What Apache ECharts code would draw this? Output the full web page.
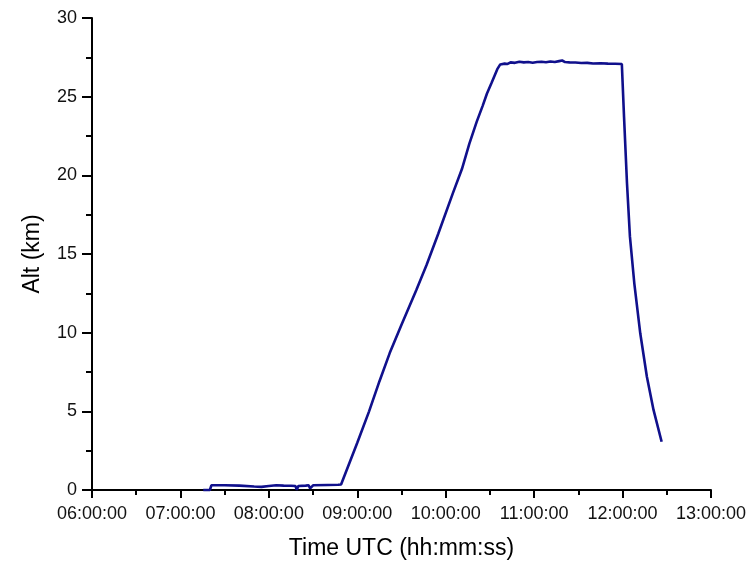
<!DOCTYPE html>
<html>
<head>
<meta charset="utf-8">
<script src="https://cdn.jsdelivr.net/npm/echarts@6/dist/echarts.min.js"></script>
<style>
  html, body { margin: 0; padding: 0; background: #fff; }
  #chart { width: 754px; height: 565px; }
</style>
</head>
<body>
<div id="chart"></div>
<script>
// flight track: time UTC (hh:mm) and altitude (km)
const times = [
  "07:15.5", "07:20", "07:21", "07:30", "07:40", "07:50", "07:55", "08:00",
  "08:05", "08:10", "08:15", "08:18", "08:19", "08:20", "08:25", "08:27",
  "08:28", "08:30", "08:40", "08:47", "08:49",
  "09:00", "09:08", "09:15", "09:22", "09:30", "09:35", "09:40", "09:47",
  "09:55", "10:05", "10:11", "10:16", "10:21", "10:25", "10:28", "10:31",
  "10:33", "10:35", "10:37", "10:38",
  "10:40", "10:42", "10:44", "10:47", "10:50", "10:53", "10:56", "10:59",
  "11:02", "11:05", "11:08", "11:11", "11:14", "11:17", "11:19", "11:21",
  "11:24", "11:28", "11:32", "11:36", "11:40", "11:45", "11:50", "11:55",
  "11:59.5",
  "12:01", "12:03", "12:05", "12:08", "12:12", "12:16.5", "12:21", "12:26.5"
];
const altitudes = [
  0, 0, 0.3, 0.3, 0.28, 0.22, 0.2, 0.25,
  0.3, 0.28, 0.27, 0.25, 0.02, 0.25, 0.28, 0.3,
  0.1, 0.3, 0.32, 0.33, 0.35,
  3.0, 5.0, 6.9, 8.7, 10.5, 11.6, 12.7, 14.3,
  16.3, 18.9, 20.4, 22.0, 23.4, 24.4, 25.2, 25.85,
  26.3, 26.75, 27.05, 27.17,
  27.1, 27.08, 27.18, 27.15, 27.22, 27.18, 27.2, 27.16,
  27.2, 27.22, 27.19, 27.24, 27.2, 27.26, 27.3, 27.2,
  27.18, 27.17, 27.14, 27.15, 27.11, 27.12, 27.1, 27.09,
  27.08,
  23.7, 19.5, 16.1, 13.1, 9.96, 7.2, 5.09, 3.07
];

const xTickHours = [6, 7, 8, 9, 10, 11, 12, 13];
const yTicks = [0, 5, 10, 15, 20, 25, 30];

const toHours = (t) => {
  const [h, m] = t.split(":");
  return Number(h) + Number(m) / 60;
};
const pad = (n) => String(n).padStart(2, "0");

const fontFamily = "Liberation Sans, Arial, sans-serif";
const axisColor = "#000";
const lineW = 2;

const chart = echarts.init(document.getElementById("chart"), null, { renderer: "canvas" });

chart.setOption({
  animation: false,
  grid: { left: 92, right: 43, top: 18, bottom: 75 },
  xAxis: {
    type: "value",
    min: xTickHours[0],
    max: xTickHours[xTickHours.length - 1],
    interval: 1,
    name: "Time UTC (hh:mm:ss)",
    nameLocation: "middle",
    nameGap: 47,
    nameTextStyle: { fontFamily, fontSize: 23, color: axisColor },
    axisLine: { show: true, lineStyle: { color: axisColor, width: lineW } },
    axisTick: { show: true, inside: false, length: 8, lineStyle: { color: axisColor, width: lineW } },
    minorTick: { show: true, splitNumber: 2, length: 5, lineStyle: { color: axisColor, width: lineW } },
    axisLabel: {
      fontFamily, fontSize: 18, color: "#111", margin: 15,
      formatter: (v) => pad(v) + ":00:00",
    },
    splitLine: { show: false },
  },
  yAxis: {
    type: "value",
    min: yTicks[0],
    max: yTicks[yTicks.length - 1],
    interval: 5,
    name: "Alt (km)",
    nameLocation: "middle",
    nameGap: 48,
    nameRotate: 90,
    nameTextStyle: { fontFamily, fontSize: 23, color: axisColor },
    axisLine: { show: true, lineStyle: { color: axisColor, width: lineW } },
    axisTick: { show: true, inside: false, length: 10, lineStyle: { color: axisColor, width: lineW } },
    minorTick: { show: true, splitNumber: 2, length: 6, lineStyle: { color: axisColor, width: lineW } },
    axisLabel: { fontFamily, fontSize: 18, color: "#111", margin: 15 },
    splitLine: { show: false },
  },
  series: [
    {
      type: "line",
      data: times.map((t, i) => [toHours(t), altitudes[i]]),
      showSymbol: false,
      lineStyle: { color: "#10108c", width: 2.6 },
      clip: false,
    },
  ],
});
</script>
</body>
</html>
